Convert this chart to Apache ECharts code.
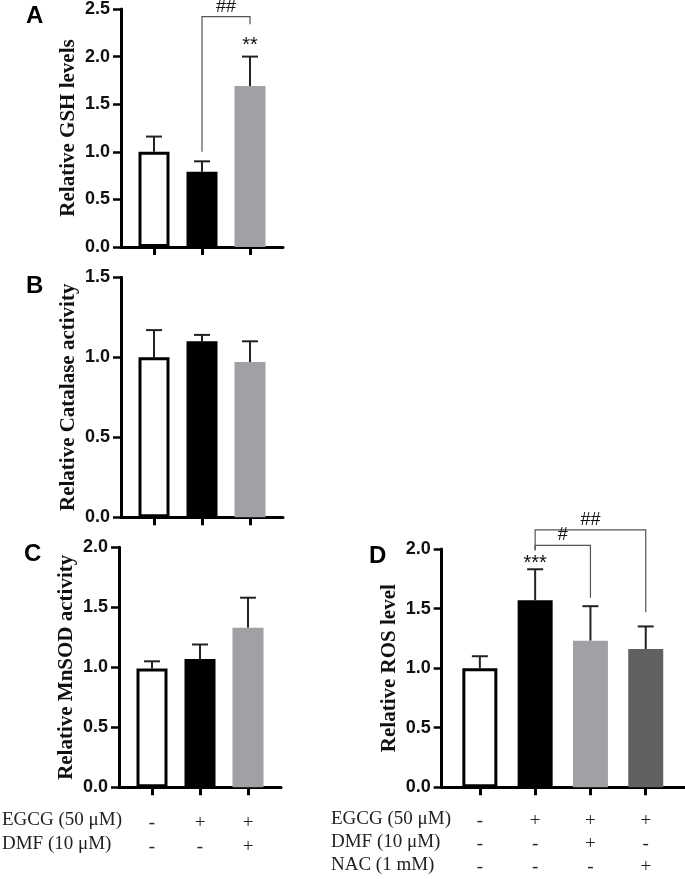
<!DOCTYPE html>
<html>
<head>
<meta charset="utf-8">
<script src="https://cdn.jsdelivr.net/npm/echarts@6/dist/echarts.min.js"></script>
<style>html,body{margin:0;padding:0;background:#fff}#c{width:685px;height:879px}</style>
</head>
<body>
<div id="c"></div>
<script>
// ---- data ----
const groupsABC = ['Control', 'EGCG', 'EGCG+DMF'];
const groupsD = ['Control', 'EGCG', 'EGCG+DMF', 'EGCG+NAC'];

const gshMean = [1.00, 0.79, 1.69];
const gshErr  = [0.16, 0.11, 0.31];
const catMean = [1.00, 1.10, 0.97];
const catErr  = [0.17, 0.04, 0.13];
const sodMean = [0.99, 1.07, 1.33];
const sodErr  = [0.06, 0.12, 0.25];
const rosMean = [1.00, 1.57, 1.23, 1.16];
const rosErr  = [0.10, 0.26, 0.29, 0.19];

const yTitles = ['Relative GSH levels', 'Relative Catalase activity', 'Relative MnSOD activity', 'Relative ROS level'];
const yMax = [2.5, 1.5, 2.0, 2.0];
const panelLetters = ['A', 'B', 'C', 'D'];

const rowNamesC = ['EGCG (50 μM)', 'DMF (10 μM)'];
const egcgC = ['-', '+', '+'];
const dmfC  = ['-', '-', '+'];
const rowNamesD = ['EGCG (50 μM)', 'DMF (10 μM)', 'NAC (1 mM)'];
const egcgD = ['-', '+', '+', '+'];
const dmfD  = ['-', '-', '+', '-'];
const nacD  = ['-', '-', '-', '+'];

// significance: [from, to, barHeight, leftBottom, rightBottom, label]
const bracketsA = [[1, 2, 2.42, 1.00, 2.34, '##']];
const starsA = [[2, 2.15, '**']];
const bracketsD = [[1, 3, 2.16, 1.99, 1.47, '##'], [1, 2, 2.03, 1.99, 1.59, '#']];
const starsD = [[1, 1.90, '***']];

// ---- styles ----
const fillColors = ['#ffffff', '#000000', '#a1a0a5', '#616161'];
const grids = [
  {left: 121, top: 7.5, width: 162, height: 239.5},
  {left: 121, top: 277.3, width: 162, height: 240},
  {left: 119, top: 547.3, width: 162, height: 240},
  {left: 441.7, top: 549, width: 243.3, height: 238.3}
];
const xRanges = [[-0.6875, 2.6875], [-0.6875, 2.6875], [-0.6875, 2.6875], [-0.69, 3.71]];
const barWidths = [31, 31, 31, 35];
const SANS = 'Liberation Sans, Arial, sans-serif';
const SERIF = 'Liberation Serif, Times New Roman, serif';

const means = [gshMean, catMean, sodMean, rosMean];
const errs = [gshErr, catErr, sodErr, rosErr];
const groups = [groupsABC, groupsABC, groupsABC, groupsD];

const xAxes = [], yAxes = [], series = [];
for (let p = 0; p < 4; p++) {
  const idx = groups[p].map((_, i) => i);
  let labelCfg = {show: false};
  if (p === 2) {
    labelCfg = {show: true, customValues: idx, interval: 0, margin: 24,
      formatter: v => [egcgC[v], dmfC[v]].join('\n'),
      fontFamily: SERIF, fontSize: 19, lineHeight: 23.5, color: '#222', verticalAlign: 'top'};
  } else if (p === 3) {
    labelCfg = {show: true, customValues: idx, interval: 0, margin: 22,
      formatter: v => [egcgD[v], dmfD[v], nacD[v]].join('\n'),
      fontFamily: SERIF, fontSize: 19, lineHeight: 23, color: '#222', verticalAlign: 'top'};
  }
  xAxes.push({
    type: 'value', gridIndex: p, min: xRanges[p][0], max: xRanges[p][1],
    axisLine: {show: true, onZero: false, lineStyle: {color: '#000', width: 3}},
    axisTick: {show: true, customValues: idx, length: 8, lineStyle: {color: '#000', width: 3}},
    axisLabel: labelCfg,
    splitLine: {show: false}
  });
  yAxes.push({
    type: 'value', gridIndex: p, min: 0, max: yMax[p], interval: 0.5,
    name: yTitles[p], nameLocation: 'middle', nameRotate: 90, nameGap: 42,
    nameTextStyle: {fontFamily: SERIF, fontWeight: 'bold', fontSize: 21, color: '#111'},
    axisLine: {show: true, onZero: false, lineStyle: {color: '#000', width: 3}},
    axisTick: {show: true, length: 8, lineStyle: {color: '#000', width: 2.5}},
    axisLabel: {fontFamily: SANS, fontWeight: 'bold', fontSize: 18, color: '#111', margin: 11,
      formatter: v => v.toFixed(1)},
    splitLine: {show: false}
  });
  series.push({
    type: 'bar', xAxisIndex: p, yAxisIndex: p, barWidth: barWidths[p],
    data: means[p].map((m, i) => ({
      value: [i, m],
      itemStyle: {color: fillColors[i], borderColor: i === 0 ? '#000' : fillColors[i], borderWidth: i === 0 ? 3 : 0}
    })),
    z: 2
  });
  series.push({
    type: 'custom', xAxisIndex: p, yAxisIndex: p, z: 1,
    data: means[p].map((m, i) => [i, m, errs[p][i]]),
    renderItem: (params, api) => {
      const x = api.value(0), m = api.value(1), e = api.value(2);
      const a = api.coord([x, m]), b = api.coord([x, m + e]);
      return {type: 'group', children: [
        {type: 'line', shape: {x1: a[0], y1: a[1], x2: b[0], y2: b[1]}, style: {stroke: '#222', lineWidth: 2}},
        {type: 'line', shape: {x1: b[0] - 8, y1: b[1], x2: b[0] + 8, y2: b[1]}, style: {stroke: '#222', lineWidth: 2}}
      ]};
    }
  });
}

function addBrackets(p, brackets, stars) {
  series.push({
    type: 'custom', xAxisIndex: p, yAxisIndex: p, z: 3, clip: false,
    data: brackets,
    renderItem: (params, api) => {
      const br = brackets[params.dataIndex];
      const l = api.coord([br[0], br[3]]), lt = api.coord([br[0], br[2]]);
      const r = api.coord([br[1], br[4]]), rt = api.coord([br[1], br[2]]);
      return {type: 'group', children: [
        {type: 'polyline', shape: {points: [l, lt, rt, r]}, style: {stroke: '#555', lineWidth: 1.2, fill: null}},
        {type: 'text', style: {x: (lt[0] + rt[0]) / 2, y: lt[1] - 1, text: br[5], textAlign: 'center', textVerticalAlign: 'bottom',
          font: '18px ' + SANS, fill: '#111'}}
      ]};
    }
  });
  series.push({
    type: 'custom', xAxisIndex: p, yAxisIndex: p, z: 3, clip: false,
    data: stars,
    renderItem: (params, api) => {
      const s = stars[params.dataIndex];
      const c = api.coord([s[0], s[1]]);
      return {type: 'text', style: {x: c[0], y: c[1] + 3, text: s[2], textAlign: 'center', textVerticalAlign: 'middle',
        font: '20px ' + SANS, fill: '#111'}};
    }
  });
}
addBrackets(0, bracketsA, starsA);
addBrackets(3, bracketsD, starsD);

const graphics = [];
const letterPos = [[35, 17], [35, 287], [33, 555], [378, 557]];
panelLetters.forEach((t, i) => graphics.push({type: 'text', left: letterPos[i][0] - 9, top: letterPos[i][1] - 13,
  style: {text: t, font: 'bold 24px ' + SANS, fill: '#000'}}));
const rowYC = [822, 846];
rowNamesC.forEach((t, i) => graphics.push({type: 'text', left: 2, top: rowYC[i] - 11,
  style: {text: t, font: '19px ' + SERIF, fill: '#222'}}));
const rowYD = [821, 844, 867];
rowNamesD.forEach((t, i) => graphics.push({type: 'text', left: 331, top: rowYD[i] - 11,
  style: {text: t, font: '19px ' + SERIF, fill: '#222'}}));

const chart = echarts.init(document.getElementById('c'), null, {renderer: 'canvas'});
chart.setOption({
  animation: false,
  backgroundColor: '#fff',
  grid: grids,
  xAxis: xAxes,
  yAxis: yAxes,
  series: series,
  graphic: graphics
});
</script>
</body>
</html>
